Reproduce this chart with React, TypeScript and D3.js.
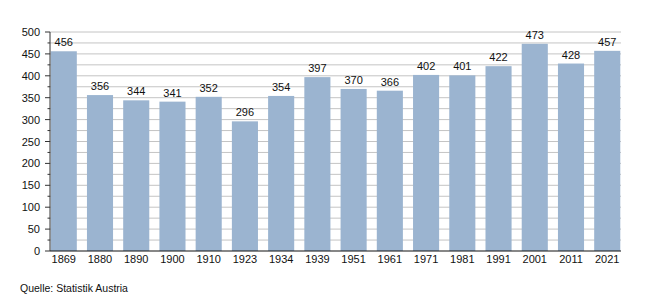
import React from "react";
import * as d3 from "d3";

const years = ["1869","1880","1890","1900","1910","1923","1934","1939","1951","1961","1971","1981","1991","2001","2011","2021"];
const values = [456,356,344,341,352,296,354,397,370,366,402,401,422,473,428,457];
const yTicks = [0,50,100,150,200,250,300,350,400,450,500];
const source = "Quelle: Statistik Austria";

export default function App() {
  const W = 650, H = 300;
  const left = 50, right = 621, top = 32, bottom = 251;
  const x = d3.scaleBand<string>().domain(years).range([left, right]).paddingInner(0.28).paddingOuter(0.02);
  const y = d3.scaleLinear().domain([0, 500]).range([bottom, top]);
  const minor = d3.range(0, 501, 25);
  const font = "'Liberation Sans', Arial, sans-serif";
  return (
    <svg width={W} height={H} style={{ position: "absolute", left: 0, top: 0 }} fontFamily={font}>
      <rect x={0} y={0} width={W} height={H} fill="#fff" />
      {minor.filter(v => v > 0).map(v => (
        <line key={"g"+v} x1={left} x2={right} y1={y(v)} y2={y(v)} stroke="#c4c4c4" strokeWidth={1} />
      ))}
      {values.map((v, i) => (
        <rect key={"b"+i} x={x(years[i])} y={y(v)} width={x.bandwidth()} height={y(0) - y(v)} fill="#9bb4d0" />
      ))}
      {values.map((v, i) => (
        <text key={"l"+i} x={(x(years[i]) as number) + x.bandwidth()/2} y={y(v) - 5} textAnchor="middle" fontSize={11} fill="#111">{v}</text>
      ))}
      <line x1={left} x2={left} y1={top} y2={bottom} stroke="#333" strokeWidth={1} />
      {minor.map(v => (
        <line key={"m"+v} x1={left - (v % 50 === 0 ? 5 : 2.5)} x2={left} y1={y(v)} y2={y(v)} stroke="#333" strokeWidth={1} />
      ))}
      {yTicks.map(v => (
        <text key={"t"+v} x={left - 10} y={y(v) + 4} textAnchor="end" fontSize={11} fill="#111">{v}</text>
      ))}
      <line x1={left} x2={right} y1={bottom} y2={bottom} stroke="#111" strokeWidth={1.2} />
      {years.map(yr => (
        <text key={"x"+yr} x={(x(yr) as number) + x.bandwidth()/2} y={bottom + 11.5} textAnchor="middle" fontSize={11} fill="#111">{yr}</text>
      ))}
      <text x={20} y={292} fontSize={10.5} fill="#111">{source}</text>
    </svg>
  );
}
